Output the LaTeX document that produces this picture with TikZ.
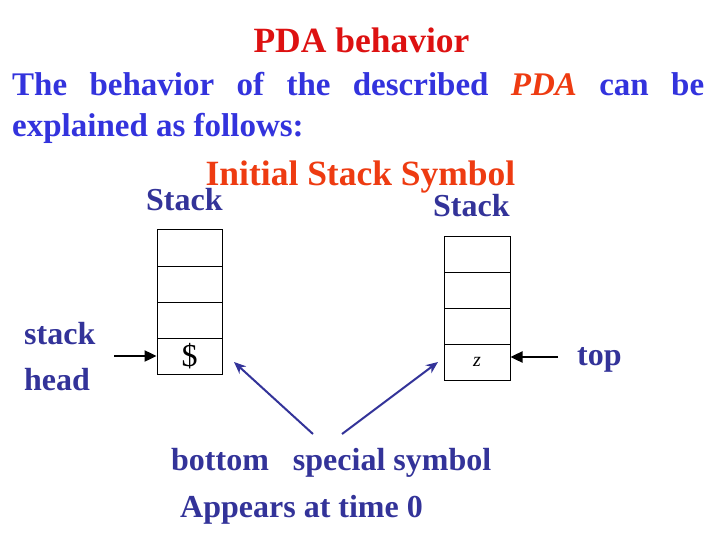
\documentclass[tikz,border=0pt]{standalone}
\usepackage{fontspec}
\setmainfont{Liberation Serif}
\usetikzlibrary{arrows.meta}
\definecolor{titlered}{RGB}{221,17,17}
\definecolor{bodyblue}{RGB}{51,51,221}
\definecolor{orred}{RGB}{238,59,17}
\definecolor{navy}{RGB}{51,51,153}
\tikzset{
  txt/.style={inner sep=0pt, anchor=base, font=\fontsize{32}{38}\selectfont\bfseries},
  cell/.style={draw, line width=1pt, minimum width=65pt, minimum height=36pt, inner sep=0pt},
  blackarrow/.style={line width=2.4pt, -{Triangle[length=12pt,width=11pt]}},
  bluearrow/.style={draw=navy, line width=2pt, -{Stealth[length=12pt,width=10pt]}, navy}
}
\begin{document}
\begin{tikzpicture}[x=1pt,y=-1pt]
\useasboundingbox[fill=white] (0,0) rectangle (720,540);
% titles
\node[txt, titlered, font=\fontsize{35.5}{40}\selectfont\bfseries] (title) at (361.5,53) {PDA behavior};
\node[txt, bodyblue, anchor=base west, font=\fontsize{33}{38}\selectfont\bfseries] (l1) at (12,96)
  {\makebox[692pt][s]{The behavior of the described \textcolor{orred}{\textit{PDA}} can be}};
\node[txt, bodyblue, anchor=base west, font=\fontsize{33}{38}\selectfont\bfseries] (l2) at (12,137) {explained as follows:};
\node[txt, orred, font=\fontsize{35.5}{40}\selectfont\bfseries] (iss) at (360.5,186) {Initial Stack Symbol};
\node[txt, navy, anchor=base west] (stackL) at (146,211) {Stack};
\node[txt, navy, anchor=base west] (stackR) at (433,217) {Stack};
% left stack
\node[cell] (L1) at (189.5,248) {};
\node[cell] (L2) at (189.5,284) {};
\node[cell] (L3) at (189.5,320) {};
\node[cell, font=\fontsize{32}{36}\selectfont] (L4) at (189.5,356) {\$};
% right stack
\node[cell, minimum width=66pt] (R1) at (477,254) {};
\node[cell, minimum width=66pt] (R2) at (477,290) {};
\node[cell, minimum width=66pt] (R3) at (477,326) {};
\node[cell, minimum width=66pt, font=\fontsize{20}{24}\selectfont\itshape] (R4) at (477,362) {z};
% side labels
\node[txt, navy, anchor=base west] (sk) at (24,344) {stack};
\node[txt, navy, anchor=base west] (hd) at (24,390) {head};
\node[txt, navy, anchor=base west] (top) at (577,365) {top};
\coordinate (la) at (114,356);
\draw[blackarrow] (la) -- (L4.west);
\coordinate (ra) at (558,357);
\draw[blackarrow] (ra) -- (ra -| R4.east);
% bottom labels
\node[txt, navy, anchor=base west] (bot) at (171,470) {bottom\hspace{0.75em}special symbol};
\node[txt, navy, anchor=base west] (app) at (180,517) {Appears at time 0};
\coordinate (b1s) at (313,434);
\coordinate (b1e) at (234,362);
\coordinate (b2s) at (342,434);
\coordinate (b2e) at (438,362);
\draw[bluearrow] (b1s) -- (b1e);
\draw[bluearrow] (b2s) -- (b2e);
\end{tikzpicture}
\end{document}
